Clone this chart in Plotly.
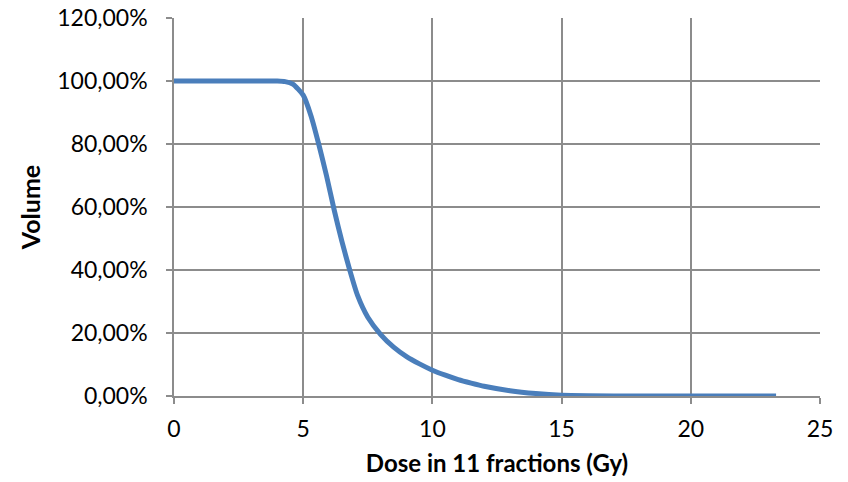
import plotly.graph_objects as go

dose = [0, 1, 2, 3, 4, 4.3, 4.6, 5.0, 5.3, 5.6, 5.9, 6.2, 6.5, 6.8, 7.1, 7.5,
        8.0, 8.5, 9.0, 9.5, 10, 10.5, 11, 11.5, 12, 13, 14, 15, 16, 18, 20, 22, 23.3]
volume_pct = [100, 100, 100, 100, 100, 99.8, 99, 95.5, 89, 80, 70, 59, 49, 40, 32, 25,
              19.5, 15.5, 12.5, 10.2, 8.2, 6.6, 5.2, 4.1, 3.1, 1.7, 0.8, 0.25, 0.1, 0, 0, 0, 0]
volume = [v / 100 for v in volume_pct]

x_ticks = [0, 5, 10, 15, 20, 25]
y_ticks = [0, 0.2, 0.4, 0.6, 0.8, 1.0, 1.2]

FONT = "Lato, Carlito, sans-serif"
GRID = "#8c8c8c"

fig = go.Figure()
fig.add_trace(go.Scatter(
    x=dose, y=volume, mode="lines",
    line=dict(color="#4a7ebb", width=5, shape="spline", smoothing=0.6),
    showlegend=False, hoverinfo="skip",
))

fig.update_layout(
    width=848, height=482,
    margin=dict(l=174, r=28, t=18, b=86),
    paper_bgcolor="white", plot_bgcolor="white",
    separators=",.",
    font=dict(family=FONT, size=23, color="black"),
)
fig.update_xaxes(
    range=[0, 25], tickvals=x_ticks, ticktext=[str(t) for t in x_ticks],
    showgrid=True, gridcolor=GRID, gridwidth=1.5,
    showline=True, linecolor=GRID, linewidth=1.5,
    ticks="outside", ticklen=6, tickcolor=GRID, tickwidth=1.5,
    zeroline=False, ticklabelstandoff=6, automargin=False,
    title=dict(text="<b>Dose in 11 fractions (Gy)</b>", font=dict(size=24), standoff=14),
)
fig.update_yaxes(
    range=[0, 1.2], tickvals=y_ticks, tickformat=".2%",
    showgrid=True, gridcolor=GRID, gridwidth=1.5,
    showline=True, linecolor=GRID, linewidth=1.5,
    ticks="outside", ticklen=6, tickcolor=GRID, tickwidth=1.5,
    zeroline=False, ticklabelstandoff=14, automargin=False,
    title=dict(text="<b>Volume</b>", font=dict(size=25), standoff=10),
)

fig.write_html("out.html")
